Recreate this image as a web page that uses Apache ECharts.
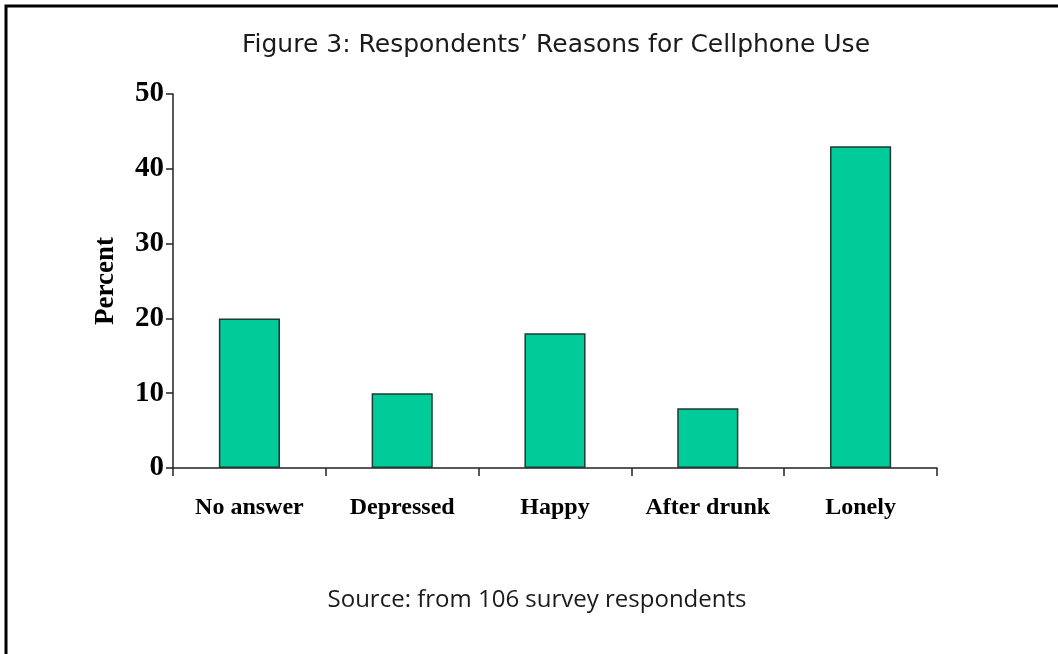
<!DOCTYPE html>
<html>
<head>
<meta charset="utf-8">
<script src="https://cdn.jsdelivr.net/npm/echarts@6/dist/echarts.min.js"></script>
<style>
  html, body { margin: 0; padding: 0; background: #fff; }
  #chart { width: 1058px; height: 654px; }
</style>
</head>
<body>
<div id="chart"></div>
<script>
// Survey answers: why respondents use their cellphone
const categories = ['No answer', 'Depressed', 'Happy', 'After drunk', 'Lonely'];
const percentValues = [20, 10, 18, 8, 43];
const titleText = 'Figure 3: Respondents\u2019 Reasons for Cellphone Use';
const sourceText = 'Source: from 106 survey respondents';
const yAxisName = 'Percent';

const chart = echarts.init(document.getElementById('chart'), null, { renderer: 'canvas' });

const serifBold = {
  fontFamily: '"Liberation Serif", "Times New Roman", serif',
  fontWeight: 'bold',
  color: '#000'
};

chart.setOption({
  animation: false,
  backgroundColor: '#fff',
  title: [
    {
      text: titleText,
      left: 551,
      top: 28,
      textAlign: 'center',
      textStyle: { fontFamily: '"DejaVu Sans", sans-serif', fontWeight: 'normal', fontSize: 25, color: '#1a1a1a' }
    },
    {
      text: sourceText,
      left: 532,
      top: 583,
      textAlign: 'center',
      textStyle: { fontFamily: '"Open Sans", sans-serif', fontWeight: 'normal', fontSize: 24, color: '#1a1a1a' }
    }
  ],
  graphic: [
    {
      type: 'polyline',
      shape: { points: [[6, 660], [6, 6], [1062, 6]] },
      style: { stroke: '#000', lineWidth: 3, fill: null }
    }
  ],
  grid: { left: 173, right: 121, top: 94, bottom: 186 },
  xAxis: {
    type: 'category',
    data: categories,
    axisLine: { show: true, lineStyle: { color: '#222', width: 1.5 } },
    axisTick: { show: true, interval: 0, length: 8, lineStyle: { color: '#222', width: 1.5 } },
    axisLabel: Object.assign({ interval: 0, fontSize: 24, margin: 28 }, serifBold)
  },
  yAxis: {
    type: 'value',
    min: 0,
    max: 50,
    interval: 10,
    name: yAxisName,
    nameLocation: 'middle',
    nameGap: 53,
    nameRotate: 90,
    nameTextStyle: Object.assign({ fontSize: 27 }, serifBold),
    splitLine: { show: false },
    axisLine: { show: true, lineStyle: { color: '#222', width: 1.5 } },
    axisTick: { show: true, length: 7, lineStyle: { color: '#222', width: 1.5 } },
    axisLabel: Object.assign({ fontSize: 29, margin: 9 }, serifBold)
  },
  series: [
    {
      type: 'bar',
      data: percentValues,
      barWidth: '40%',
      itemStyle: { color: '#00CC99', borderColor: '#1d3a33', borderWidth: 1.5 }
    }
  ]
});
</script>
</body>
</html>
